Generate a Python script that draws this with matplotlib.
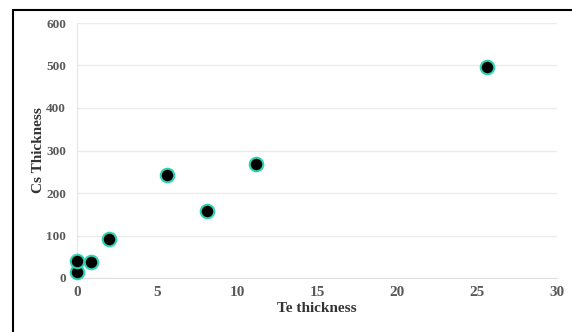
import matplotlib.pyplot as plt
from matplotlib.patches import Rectangle

te = [0, 0, 0.85, 2.0, 5.6, 8.1, 11.2, 25.6]
cs = [14, 40, 37, 91, 243, 158, 268, 497]
xticks = [0, 5, 10, 15, 20, 25, 30]
yticks = [0, 100, 200, 300, 400, 500, 600]

plt.rcParams['font.family'] = 'Liberation Serif'
plt.rcParams['font.weight'] = 'bold'
plt.rcParams['axes.labelweight'] = 'bold'

W, H = 572, 332
fig = plt.figure(figsize=(W / 100, H / 100), dpi=100)
ax = fig.add_axes([77 / W, (H - 278) / H, 480 / W, 255 / H])

ax.scatter(te, cs, s=95, c='black', edgecolors='#2fd3b0', linewidths=1.5,
           zorder=3, clip_on=False)

ax.set_xlim(0, 30)
ax.set_ylim(0, 600)
ax.set_xticks(xticks)
ax.set_yticks(yticks)
ax.tick_params(axis='x', length=0, pad=6, labelsize=11, labelcolor='#595959')
ax.tick_params(axis='y', length=0, pad=8, labelsize=9.5, labelcolor='#595959')
ax.grid(axis='y', color='#ebebeb', linewidth=1)
ax.set_axisbelow(True)
for s in ['top', 'right']:
    ax.spines[s].set_visible(False)
ax.spines['left'].set_color('#e6e6e6')
ax.spines['bottom'].set_color('#e0e0e0')

ax.set_xlabel('Te thickness', fontsize=11, color='#333333', labelpad=2)
ax.set_ylabel('Cs Thickness', fontsize=11, color='#333333', labelpad=1)

# outer frame, runs off the right and bottom edges
fig.patches.append(Rectangle((13 / W, -0.05), 1.0, 1 - 10 / H + 0.05,
                             transform=fig.transFigure, fill=False,
                             edgecolor='black', linewidth=1.5))

fig.savefig('out.png', dpi=100)
